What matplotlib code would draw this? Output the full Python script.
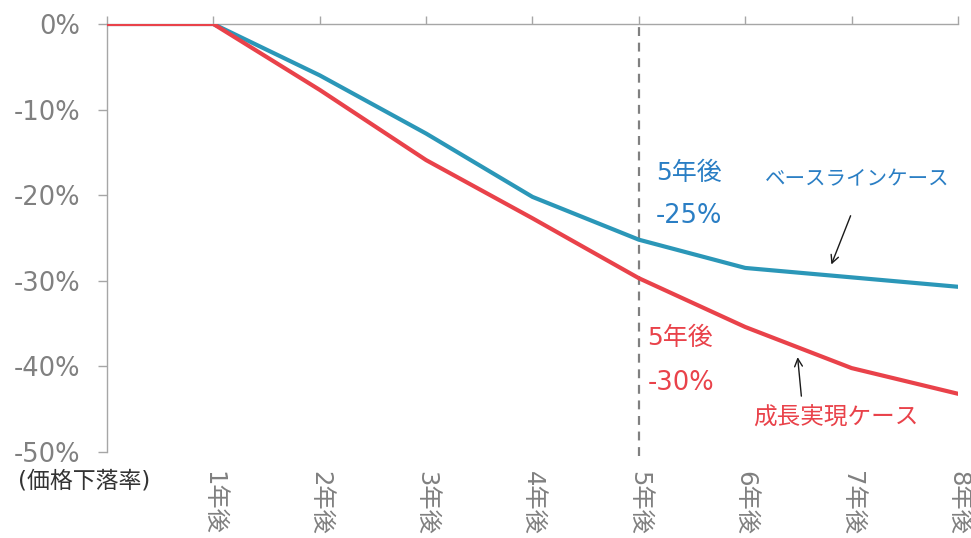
import matplotlib
matplotlib.use("Agg")
import matplotlib.pyplot as plt

# Latin glyphs from DejaVu Sans, Japanese glyphs from Noto Sans CJK JP
plt.rcParams['font.family'] = ['DejaVu Sans', 'Noto Sans CJK JP']

# Price decline rate (%) by year
years = [0, 1, 2, 3, 4, 5, 6, 7, 8]
baseline = [0, 0, -6.0, -12.8, -20.2, -25.2, -28.5, -29.6, -30.7]
growth = [0, 0, -7.7, -15.9, -22.7, -29.7, -35.4, -40.2, -43.2]
x_labels = ["", "1年後", "2年後", "3年後", "4年後", "5年後", "6年後", "7年後", "8年後"]
y_ticks = [0, -10, -20, -30, -40, -50]
marker_year = 5

BLUE_LINE = "#2b97b8"
BLUE_TEXT = "#2a7ec4"
RED = "#e9424a"
GREY = "#808080"

fig = plt.figure(figsize=(9.71, 5.38), dpi=100)
ax = fig.add_axes([0.1102, 0.1599, 0.8764, 0.7955])

ax.plot(years, baseline, color=BLUE_LINE, lw=3.0, solid_joinstyle="round", zorder=3)
ax.plot(years, growth, color=RED, lw=3.0, solid_joinstyle="round", zorder=4)
ax.axvline(marker_year, ymin=-0.01, ymax=1, color=GREY, lw=1.6, ls=(0, (4, 3)),
           clip_on=False, zorder=2)

ax.set_xlim(0, 8)
ax.set_ylim(-50, 0)
ax.set_yticks(y_ticks)
ax.set_yticklabels([f"{v}%" for v in y_ticks], color=GREY, fontsize=18.5)
ax.set_xticks(years)
ax.set_xticklabels(x_labels, rotation=-90, color=GREY, fontsize=17.5)

for s in ["right", "bottom"]:
    ax.spines[s].set_visible(False)
for s in ["left", "top"]:
    ax.spines[s].set_color("#a6a6a6")
    ax.spines[s].set_linewidth(1.0)

ax.tick_params(axis="y", direction="out", length=6.5, width=1.0, color="#a6a6a6", pad=13)
ax.tick_params(axis="x", top=True, bottom=False, labeltop=False, labelbottom=True,
               direction="out", length=6, width=1.0, color="#a6a6a6", pad=8)

fig.text(18 / 971, 1 - 481 / 538, "(価格下落率)", ha="left", va="center",
         fontsize=16.5, color="#333333")

# Five-year values
b5 = baseline[years.index(marker_year)]
g5 = growth[years.index(marker_year)]
ax.text(5.16, -17.4, f"{marker_year}年後", color=BLUE_TEXT, fontsize=18, ha="left", va="center")
ax.text(5.16, -22.4, f"{round(b5)}%", color=BLUE_TEXT, fontsize=18.5, ha="left", va="center")
ax.text(5.08, -36.7, f"{marker_year}年後", color=RED, fontsize=18, ha="left", va="center")
ax.text(5.08, -41.9, f"{round(g5)}%", color=RED, fontsize=18.5, ha="left", va="center")

# Series labels with pointers
ax.text(7.05, -18.2, "ベースラインケース", color=BLUE_TEXT, fontsize=14.8, ha="center", va="center")
ax.annotate("", xy=(6.80, -28.4), xytext=(7.0, -22.1),
            arrowprops=dict(arrowstyle="->", color="#1a1a1a", lw=1.0, mutation_scale=14))
ax.text(6.85, -46.0, "成長実現ケース", color=RED, fontsize=17, ha="center", va="center")
ax.annotate("", xy=(6.49, -38.6), xytext=(6.53, -43.8),
            arrowprops=dict(arrowstyle="->", color="#1a1a1a", lw=1.0, mutation_scale=14))

fig.savefig("out.png", dpi=100, facecolor="white")
